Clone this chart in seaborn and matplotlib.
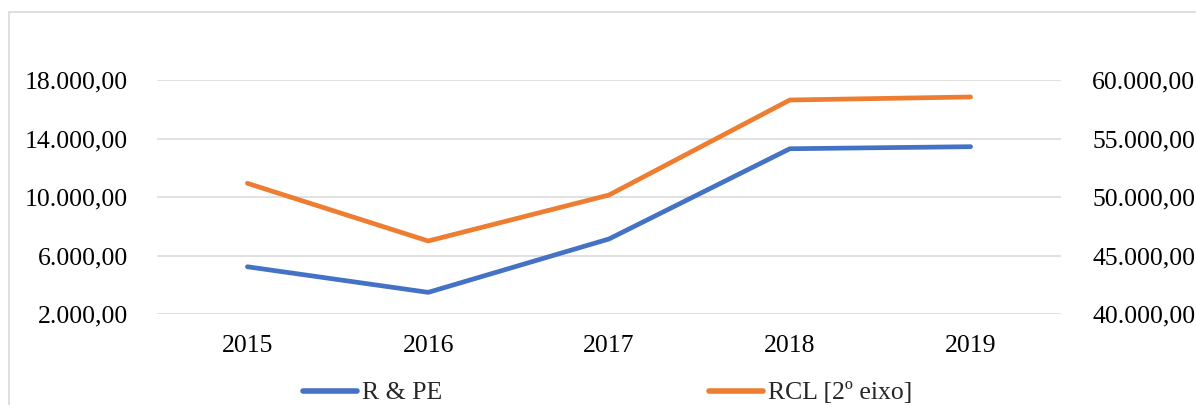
import pandas as pd
import matplotlib.pyplot as plt
import matplotlib.patches as mpatches
import seaborn as sns
from matplotlib.ticker import FuncFormatter

# data
years = ["2015", "2016", "2017", "2018", "2019"]
r_pe = [5230, 3480, 7130, 13300, 13440]
rcl = [51170, 46240, 50170, 58290, 58550]

left_ticks = [2000, 6000, 10000, 14000, 18000]
right_ticks = [40000, 45000, 50000, 55000, 60000]

blue = "#4472C4"
orange = "#ED7D31"

sns.set_style("white")
plt.rcParams['font.family'] = ['Liberation Serif', 'DejaVu Serif']


def br_fmt(v, pos=None):
    s = f"{v:,.2f}"
    return s.replace(",", "X").replace(".", ",").replace("X", ".")


df = pd.DataFrame({"ano": years, "R & PE": r_pe, "RCL": rcl})

fig = plt.figure(figsize=(11.96, 4.05), dpi=100)
ax = fig.add_axes([157 / 1196, 91 / 405, 904 / 1196, 234 / 405])
ax2 = ax.twinx()

sns.lineplot(data=df, x="ano", y="R & PE", ax=ax, color=blue, linewidth=3.4,
             solid_capstyle="round", sort=False)
sns.lineplot(data=df, x="ano", y="RCL", ax=ax2, color=orange, linewidth=3.4,
             solid_capstyle="round", sort=False)

ax.set_xlim(-0.5, 4.5)
ax.set_ylim(2000, 18000)
ax2.set_ylim(40000, 60000)
ax.set_yticks(left_ticks)
ax2.set_yticks(right_ticks)
ax.yaxis.set_major_formatter(FuncFormatter(br_fmt))
ax2.yaxis.set_major_formatter(FuncFormatter(br_fmt))

ax.grid(axis="y", color="#D9D9D9", linewidth=1.1)
ax.set_axisbelow(True)
for a in (ax, ax2):
    for sp in a.spines.values():
        sp.set_visible(False)
    a.set_xlabel("")
    a.set_ylabel("")
    a.tick_params(length=0, labelsize=18.5, colors="black")
ax.tick_params(axis="y", pad=21)
ax2.tick_params(axis="y", pad=22.5)
ax.tick_params(axis="x", pad=15)

handles = [plt.Line2D([], [], color=blue, linewidth=4, solid_capstyle="round"),
           plt.Line2D([], [], color=orange, linewidth=4, solid_capstyle="round")]
fig.legend(handles, ["R & PE", "RCL [2º eixo]"], loc="center",
           bbox_to_anchor=(0.508, 12 / 405), ncol=2, frameon=False,
           fontsize=18.5, handlelength=2.1, handletextpad=0.2,
           columnspacing=10.4)

# light chart-area border
fig.patches.append(mpatches.Rectangle((9 / 1196, -0.1), 1.2, 0.1 + 393 / 405,
                                      transform=fig.transFigure, fill=False,
                                      edgecolor="#D9D9D9", linewidth=1.2))

fig.savefig("out.png", dpi=100)
